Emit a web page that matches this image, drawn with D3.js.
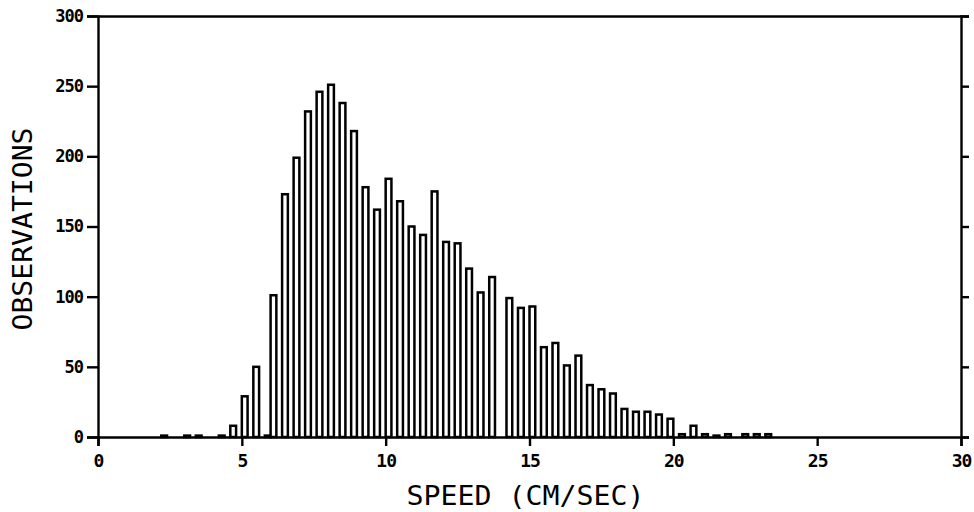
<!DOCTYPE html>
<html>
<head>
<meta charset="utf-8">
<script src="https://cdn.jsdelivr.net/npm/d3@7"></script>
<style>
  html, body { margin: 0; padding: 0; background: #fff; }
  svg { display: block; }
</style>
</head>
<body>
<svg id="chart" width="974" height="512"></svg>
<script>
// Bin start speeds (cm/sec), bins 0.2 cm/sec wide
const speeds = [2.2, 3.0, 3.4, 4.2, 4.6, 5.0, 5.4, 5.8, 6.0, 6.4, 6.8, 7.2, 7.6, 8.0, 8.4, 8.8,
  9.2, 9.6, 10.0, 10.4, 10.8, 11.2, 11.6, 12.0, 12.4, 12.8, 13.2, 13.6, 14.2, 14.6, 15.0,
  15.4, 15.8, 16.2, 16.6, 17.0, 17.4, 17.8, 18.2, 18.6, 19.0, 19.4, 19.8, 20.2, 20.6,
  21.0, 21.4, 21.8, 22.4, 22.8, 23.2];
const observations = [1, 1, 1, 1, 8, 29, 50, 1, 101, 173, 199, 232, 246, 251, 238, 218,
  178, 162, 184, 168, 150, 144, 175, 139, 138, 120, 103, 114, 99, 92, 93,
  64, 67, 51, 58, 37, 34, 31, 20, 18, 18, 16, 13, 2, 8,
  2, 1, 2, 2, 2, 2];
const binWidth = 0.2;
const xTicks = [0, 5, 10, 15, 20, 25, 30];
const yTicks = [0, 50, 100, 150, 200, 250, 300];
const xTitle = "SPEED (CM/SEC)";
const yTitle = "OBSERVATIONS";

const svg = d3.select("#chart");
const L = 98, R = 961, T = 16, B = 437;
const x = d3.scaleLinear().domain([0, 30]).range([L, R]);
const y = d3.scaleLinear().domain([0, 300]).range([B, T]);

// bars
svg.append("g").selectAll("rect")
  .data(speeds.map((s, i) => ({ s, v: observations[i] })))
  .join("rect")
  .attr("x", d => x(d.s))
  .attr("width", d => x(d.s + binWidth) - x(d.s))
  .attr("y", d => y(d.v))
  .attr("height", d => y(0) - y(d.v))
  .attr("fill", "#fff")
  .attr("stroke", "#000")
  .attr("stroke-width", 2.5);

const tickFont = "'DejaVu Sans Mono', monospace";

// left axis
const yAxisL = svg.append("g").attr("transform", `translate(${L},0)`)
  .call(d3.axisLeft(y).tickValues(yTicks).tickSize(11).tickPadding(4).tickFormat(d3.format("d")));
// right axis
const yAxisR = svg.append("g").attr("transform", `translate(${R},0)`)
  .call(d3.axisRight(y).tickValues(yTicks).tickSize(8).tickFormat(""));
// bottom axis
const xAxis = svg.append("g").attr("transform", `translate(0,${B})`)
  .call(d3.axisBottom(x).tickValues(xTicks).tickSize(9).tickPadding(8).tickFormat(d3.format("d")));
// top line
const xAxisT = svg.append("g").attr("transform", `translate(0,${T})`)
  .call(d3.axisTop(x).tickValues([]).tickSizeOuter(0));

[yAxisL, yAxisR, xAxis, xAxisT].forEach(g => {
  g.select(".domain").attr("stroke", "#000").attr("stroke-width", 2.4);
  g.selectAll(".tick line").attr("stroke", "#000").attr("stroke-width", 2.4);
  g.selectAll(".tick text")
    .attr("fill", "#000")
    .attr("font-family", tickFont)
    .attr("font-weight", "bold");
});
yAxisL.selectAll(".tick text").attr("font-size", 17).attr("letter-spacing", -1);
xAxis.selectAll(".tick text").attr("font-size", 18).attr("letter-spacing", -1);

// titles
svg.append("text")
  .attr("x", (L + R) / 2 - 4)
  .attr("y", 505)
  .attr("text-anchor", "middle")
  .attr("font-family", tickFont)
  .attr("font-size", 27)
  .attr("fill", "#000")
  .attr("textLength", 238)
  .attr("lengthAdjust", "spacingAndGlyphs")
  .text(xTitle);

svg.append("text")
  .attr("transform", `translate(32,${229}) rotate(-90)`)
  .attr("text-anchor", "middle")
  .attr("font-family", tickFont)
  .attr("font-size", 27)
  .attr("fill", "#000")
  .attr("textLength", 203)
  .attr("lengthAdjust", "spacingAndGlyphs")
  .text(yTitle);
</script>
</body>
</html>
